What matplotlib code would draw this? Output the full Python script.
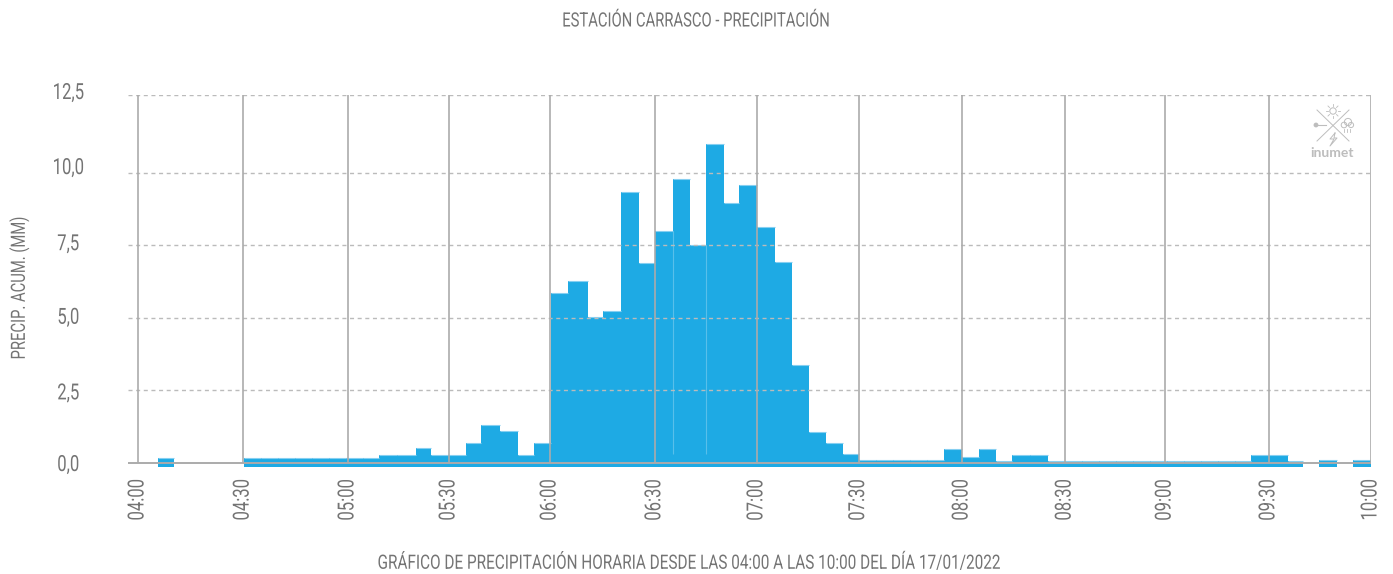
import matplotlib
matplotlib.use("Agg")
import matplotlib.pyplot as plt
import matplotlib.patheffects as pe
from matplotlib.patches import Circle
from matplotlib.transforms import Affine2D, ScaledTranslation
import numpy as np

# minutes after 04:00, nan = no reading in that slot
bar_edges = [5.8, 10.5, 30.9, 35.9, 40.9, 45.8, 50.8, 55.8, 60.7, 65.7, 70.4, 75.6, 81.2, 85.5,
             90.5, 95.8, 100.1, 105.7, 110.9, 115.6, 120.6, 125.5, 131.4, 135.8, 141.0, 146.3,
             150.9, 156.2, 161.2, 165.8, 171.1, 175.5, 180.7, 186.0, 190.9, 195.9, 200.9, 205.8,
             210.5, 215.5, 220.4, 225.4, 230.4, 235.3, 240.6, 245.5, 250.5, 255.2, 260.4, 265.7,
             270.7, 275.6, 280.6, 285.5, 290.5, 295.5, 300.4, 305.4, 310.4, 315.3, 320.3, 325.0,
             330.2, 335.8, 340.1, 344.8, 350.1, 354.7, 360.0]
precip = [0.17, np.nan,
          0.16, 0.16, 0.16, 0.16, 0.16, 0.16, 0.16, 0.16,
          0.29, 0.29, 0.53, 0.29, 0.29, 0.70, 1.30, 1.09, 0.29, 0.70,
          5.84, 6.25, 5.02, 5.25, 9.33, 6.88, 7.98, 9.77, 7.52, 10.97, 8.96, 9.58,
          8.13, 6.91, 3.37, 1.07, 0.69, 0.30,
          0.09, 0.09, 0.09, 0.09, 0.09,
          0.49, 0.21, 0.49, 0.08, 0.26, 0.26,
          0.08, 0.08, 0.08, 0.08, 0.08, 0.08, 0.08, 0.08, 0.08, 0.08, 0.08, 0.08,
          0.26, 0.26, 0.08, np.nan, 0.10, np.nan, 0.10]
time_ticks = [0, 30.7, 61.3, 90.8, 120.3, 150.9, 180.7, 210.4, 240.6, 270.7, 299.9, 330.2, 360]
time_labels = ["04:00", "04:30", "05:00", "05:30", "06:00", "06:30", "07:00", "07:30",
               "08:00", "08:30", "09:00", "09:30", "10:00"]
y_ticks = [0, 2.5, 5, 7.5, 10, 12.67]
y_labels = ["0,0", "2,5", "5,0", "7,5", "10,0", "12,5"]
y_label_shift = [0, -1, 2, 3, 6.5, 4]

BLUE = "#1EAAE4"
GRAY = "#ABABAB"
TEXT = "#747474"
W, H = 1393, 574
plt.rcParams["font.family"] = ["Roboto", "DejaVu Sans"]


class Narrow(pe.AbstractPathEffect):
    # no condensed font installed, so squeeze each text along its own baseline
    def __init__(self, factor):
        super().__init__()
        self.factor = factor

    def draw_path(self, renderer, gc, tpath, affine, rgbFace=None):
        box = tpath.get_extents()
        mid = (box.x0 + box.x1) / 2
        squeeze = Affine2D().translate(-mid, 0).scale(self.factor, 1).translate(mid, 0)
        renderer.draw_path(gc, tpath, squeeze + affine, rgbFace)


fig = plt.figure(figsize=(W / 100, H / 100), dpi=100)
ax = fig.add_axes([128 / W, 1 - 472 / H, (1371 - 128) / W, (472 - 95) / H])
ax.set_xlim(-2.92, 360)
ax.set_ylim(-0.31, 12.67)
for s in ax.spines.values():
    s.set_visible(False)

edges = np.array(bar_edges)
vals = np.array(precip)
base = -0.14
ax.bar(edges[:-1], vals - base, width=np.diff(edges), bottom=base, align="edge",
       color=BLUE, linewidth=0, zorder=2)
ax.hlines(vals, edges[:-1], edges[1:], color="#86CFF1", linewidth=0.8, zorder=2.5)
ax.vlines([156.2, 165.8], 0.3, [7.98, 7.52], color="#58BFEA", linewidth=0.8, zorder=2.5)

for y in y_ticks[1:]:
    ax.plot([-2.92, 360], [y, y], color="#BBBBBB", linewidth=1, dashes=(2.9, 2.6), zorder=3)
ax.vlines(time_ticks, 0, 12.67, color=GRAY, linewidth=1.2, zorder=4)
ax.plot([-2.92, 360], [0, 0], color=GRAY, linewidth=1.4, zorder=4, solid_capstyle="butt")

ax.set_xticks(time_ticks, time_labels, rotation=90, fontsize=16, color=TEXT)
ax.set_yticks(y_ticks, y_labels, fontsize=16, color=TEXT)
ax.tick_params(axis="x", length=0, pad=0)
ax.tick_params(axis="y", length=0, pad=43)
for lab in ax.get_xticklabels():
    lab.set_path_effects([Narrow(0.75)])
for lab, up in zip(ax.get_yticklabels(), y_label_shift):
    lab.set_ha("center")
    lab.set_path_effects([Narrow(0.75)])
    lab.set_transform(lab.get_transform() + ScaledTranslation(0, up / 100, fig.dpi_scale_trans))

title = fig.text(696 / W, 1 - 21 / H, "ESTACIÓN CARRASCO - PRECIPITACIÓN", ha="center", va="center",
                 fontsize=14.2, color=TEXT)
xlab = fig.text(689 / W, 1 - 563 / H,
                "GRÁFICO DE PRECIPITACIÓN HORARIA DESDE LAS 04:00 A LAS 10:00 DEL DÍA 17/01/2022",
                ha="center", va="center", fontsize=14.2, color=TEXT)
ylab = fig.text(19 / W, 1 - 288 / H, "PRECIP. ACUM. (MM)", ha="center", va="center", rotation=90,
                fontsize=14.2, color=TEXT)
title.set_path_effects([Narrow(0.75)])
xlab.set_path_effects([Narrow(0.777)])
ylab.set_path_effects([Narrow(0.75)])

# logo, drawn in its own small pixel-sized axes
logo = fig.add_axes([1310 / W, 1 - 162 / H, 46 / W, 60 / H], zorder=5)
logo.set_xlim(1310, 1356)
logo.set_ylim(162, 102)
logo.axis("off")
LOGO = "#BDBDBD"
logo.plot([1317, 1349], [110, 141], color=LOGO, lw=0.7)
logo.plot([1349, 1317], [110, 141], color=LOGO, lw=0.7)
logo.add_patch(Circle((1333, 111), 3.2, fill=False, ec=LOGO, lw=0.7))
for dx, dy in [(-7, 0), (7, 0), (0, -7), (0, 7), (-5, -5), (5, -5), (-5, 5), (5, 5)]:
    logo.plot([1333 + dx * 0.7, 1333 + dx], [111 + dy * 0.7, 111 + dy], color=LOGO, lw=0.6)
for cx, cy, r in [(1344, 125, 2.8), (1348, 122, 3.6), (1351, 125, 2.6)]:
    logo.add_patch(Circle((cx, cy), r, fill=False, ec=LOGO, lw=0.7))
for x in [1344, 1347, 1350]:
    logo.plot([x, x], [129, 132], color=LOGO, lw=0.6)
logo.plot([1314, 1326], [125, 125], color=LOGO, lw=0.8)
logo.add_patch(Circle((1316, 125), 2.4, color=LOGO, lw=0))
logo.plot([1335, 1330, 1334, 1330, 1337, 1334, 1335], [133, 139, 139, 146, 138, 138, 133], color=LOGO, lw=0.7)
logo.text(1332, 153, "inumet", ha="center", va="center", fontsize=10, fontweight="bold",
          color=LOGO, family=["Lato", "DejaVu Sans"])

fig.savefig("out.png", dpi=100)
